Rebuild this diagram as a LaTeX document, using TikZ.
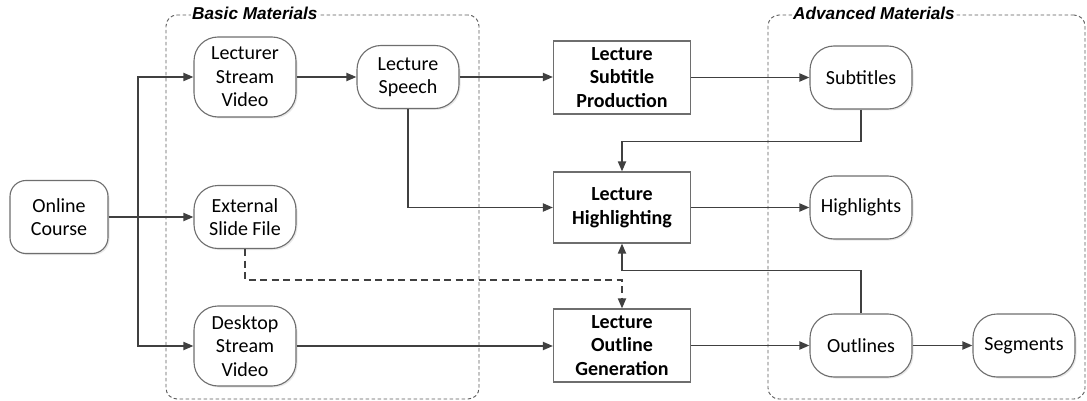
\documentclass[tikz,border=0pt]{standalone}
\usepackage{fontspec}
\newfontfamily\calib{Carlito}
\newfontfamily\arialf{Liberation Sans}
\usetikzlibrary{arrows.meta,shadows}
\definecolor{linegray}{HTML}{404040}
\definecolor{bordergray}{HTML}{6E6E6E}
\definecolor{groupgray}{HTML}{5A5A5A}
\begin{document}
\begin{tikzpicture}[x=1pt,y=-1pt,
  every node/.style={text=black},
  basefont/.style={font=\calib\fontsize{20}{23.5}\selectfont},
  softshadow/.style={drop shadow={opacity=0.18,shadow xshift=1.5pt,shadow yshift=-1.5pt}},
  datanode/.style={basefont,draw=bordergray,line width=1.1pt,fill=white,softshadow,
    rounded corners=24pt,minimum width=102pt,minimum height=63pt,align=center,inner sep=0pt},
  tallnode/.style={datanode,minimum height=80pt},
  procnode/.style={draw=bordergray,line width=1.1pt,fill=white,
    minimum width=137pt,minimum height=73pt,align=center,inner sep=0pt,
    font=\calib\bfseries\fontsize{20}{23.5}\selectfont},
  groupbox/.style={draw=groupgray,line width=0.9pt,dash pattern=on 3.5pt off 2.5pt,rounded corners=11pt},
  grouplabel/.style={fill=white,inner xsep=1pt,inner ysep=0pt,anchor=west,
    font=\arialf\bfseries\itshape\fontsize{17.2}{20}\selectfont},
  conn/.style={draw=linegray,line width=1.8pt,-{Triangle[length=10pt,width=8pt]}},
  dashconn/.style={conn,dash pattern=on 7pt off 4.5pt},
]
\useasboundingbox (0,0) rectangle (1087,401);

% material groups
\node[groupbox,minimum width=313pt,minimum height=384pt] (basic) at (322.5,207) {};
\node[groupbox,minimum width=317pt,minimum height=384pt] (adv) at (926.5,207) {};
\node[grouplabel] (basiclbl) at (191,13.5) {Basic Materials};
\node[grouplabel] (advlbl) at (792,13.5) {Advanced Materials};

% source
\node[datanode,minimum width=98pt,minimum height=73pt,rounded corners=16pt] (oc) at (59,217) {Online\\Course};

% basic materials
\node[tallnode] (lsv) at (245,77) {Lecturer\\Stream\\Video};
\node[datanode] (ls) at (408,77) {Lecture\\Speech};
\node[datanode] (esf) at (245,217) {External\\Slide File};
\node[tallnode] (dsv) at (245,346) {Desktop\\Stream\\Video};

% processing steps
\node[procnode] (lsp) at (622,77.5) {Lecture\\Subtitle\\Production};
\node[procnode,minimum height=71pt] (lh) at (622,207.5) {Lecture\\Highlighting};
\node[procnode] (log) at (622,345.5) {Lecture\\Outline\\Generation};

% advanced materials
\node[datanode] (sub) at (861,77.5) {Subtitles};
\node[datanode] (hl) at (861,207.5) {Highlights};
\node[datanode] (out) at (861,345.5) {Outlines};
\node[datanode] (seg) at (1024,345.5) {Segments};

% connectors
\coordinate (br) at (138,217);
\draw[conn] (oc.east) -- (esf.west);
\draw[conn,{Triangle[length=10pt,width=8pt]}-{Triangle[length=10pt,width=8pt]}]
  (lsv.west) -- (br |- lsv.west) -- (br |- dsv.west) -- (dsv.west);
\draw[conn] (lsv.east) -- (ls.west);
\draw[conn] (ls.east) -- (lsp.west |- ls.east);
\draw[conn] (ls.south) |- (lh.west);
\draw[dashconn] (esf.south) -- ++(0,31) -| (log.north);
\draw[conn] (dsv.east) -- (log.west |- dsv.east);
\draw[conn] (lsp.east) -- (sub.west);
\draw[conn] (sub.south) -- ++(0,32) -| (lh.north);
\draw[conn] (lh.east) -- (hl.west);
\draw[conn] (out.north) -- ++(0,-43) -| (lh.south);
\draw[conn] (log.east) -- (out.west);
\draw[conn] (out.east) -- (seg.west);
\end{tikzpicture}
\end{document}
